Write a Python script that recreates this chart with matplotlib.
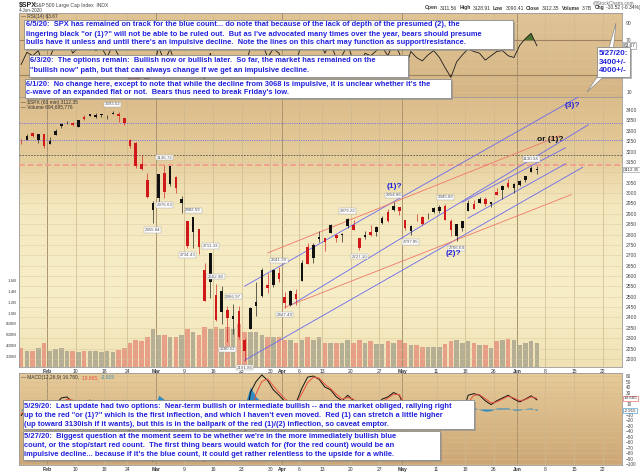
import numpy as np
import pandas as pd
import matplotlib
matplotlib.use("Agg")
import matplotlib.pyplot as plt
from matplotlib.patches import Rectangle, Polygon

plt.rcParams['font.family'] = ['Liberation Sans', 'DejaVu Sans']

# ---------------- data ----------------
holidays = ['2020-02-17', '2020-04-10', '2020-05-25']
sessions = [d.strftime('%Y-%m-%d') for d in pd.bdate_range('2020-01-27', '2020-06-26')
            if d.strftime('%Y-%m-%d') not in holidays]

opens = [3247.16, 3255.35, 3289.46, 3256.45, 3282.33,
         3235.66, 3280.61, 3324.91, 3344.92, 3335.54,
         3318.28, 3365.87, 3370.50, 3365.90, 3378.08,
         3369.04, 3380.39, 3380.45, 3360.50,
         3257.61, 3238.94, 3139.90, 3062.54, 2916.90,
         2974.28, 3096.46, 3045.75, 3075.70, 2954.20,
         2863.89, 2813.48, 2825.60, 2630.86, 2569.99,
         2508.59, 2425.66, 2436.50, 2393.48, 2431.94,
         2290.71, 2344.44, 2457.77, 2501.29, 2555.87,
         2558.98, 2614.69, 2498.08, 2458.54, 2514.92,
         2578.28, 2738.65, 2685.00, 2776.99,
         2782.46, 2805.10, 2795.64, 2799.34, 2842.43,
         2845.62, 2784.81, 2787.89, 2810.42, 2812.64,
         2854.65, 2909.96, 2918.46, 2930.91, 2869.09,
         2815.01, 2868.88, 2883.14, 2878.26, 2908.83,
         2915.46, 2939.50, 2865.86, 2794.54, 2829.95,
         2913.86, 2948.59, 2953.63, 2969.95, 2948.05,
         3004.08, 3015.65, 3046.61, 3025.17,
         3038.78, 3064.78, 3098.90, 3111.56]
highs = [3258.85, 3285.78, 3293.47, 3285.91, 3282.33,
         3268.44, 3306.92, 3337.58, 3347.96, 3341.42,
         3352.26, 3375.63, 3381.47, 3385.09, 3380.69,
         3375.01, 3393.52, 3389.15, 3360.76,
         3259.81, 3246.99, 3182.51, 3097.07, 2959.72,
         3090.96, 3136.72, 3130.97, 3083.04, 2985.93,
         2863.89, 2882.59, 2825.60, 2660.95, 2711.33,
         2562.98, 2553.93, 2453.57, 2466.97, 2453.01,
         2300.73, 2449.71, 2571.42, 2637.01, 2615.91,
         2631.80, 2641.39, 2522.75, 2533.22, 2538.18,
         2676.85, 2756.89, 2760.75, 2818.57,
         2782.46, 2851.85, 2801.88, 2806.51, 2879.22,
         2868.98, 2785.54, 2815.10, 2844.90, 2842.71,
         2887.72, 2921.15, 2954.86, 2930.91, 2869.09,
         2844.24, 2898.23, 2891.11, 2901.92, 2932.16,
         2944.25, 2945.82, 2874.14, 2852.80, 2865.01,
         2968.09, 2964.21, 2980.29, 2978.50, 2956.76,
         3021.72, 3036.25, 3068.67, 3049.17,
         3062.18, 3081.07, 3130.94, 3128.91]
lows = [3234.50, 3253.22, 3271.89, 3242.80, 3214.68,
        3235.66, 3280.61, 3313.75, 3334.39, 3322.12,
        3317.77, 3352.72, 3369.72, 3360.52, 3366.15,
        3355.61, 3378.83, 3341.02, 3328.45,
        3214.65, 3118.77, 3108.99, 2977.39, 2855.84,
        2945.19, 2976.63, 3034.38, 2999.83, 2901.54,
        2734.43, 2734.00, 2707.22, 2478.86, 2492.37,
        2380.94, 2367.04, 2280.52, 2319.78, 2295.56,
        2191.86, 2344.44, 2407.53, 2500.72, 2520.02,
        2545.28, 2571.15, 2447.49, 2455.79, 2459.96,
        2574.57, 2657.67, 2663.30, 2762.36,
        2721.17, 2805.10, 2761.54, 2764.32, 2830.88,
        2820.43, 2727.10, 2775.95, 2794.26, 2791.76,
        2852.89, 2860.71, 2912.16, 2892.47, 2821.61,
        2797.85, 2863.55, 2847.65, 2876.48, 2902.88,
        2903.44, 2869.59, 2793.15, 2766.64, 2816.78,
        2913.86, 2922.35, 2953.63, 2938.57, 2933.59,
        2988.17, 2969.75, 3023.40, 2998.61,
        3031.54, 3051.64, 3098.90, 3090.41]
closes = [3243.63, 3276.24, 3273.40, 3283.66, 3225.52,
          3248.92, 3297.59, 3334.69, 3345.78, 3327.71,
          3352.09, 3357.75, 3379.45, 3373.94, 3380.16,
          3370.29, 3386.15, 3373.23, 3337.75,
          3225.89, 3128.21, 3116.39, 2978.76, 2954.22,
          3090.23, 3003.37, 3130.12, 3023.94, 2972.37,
          2746.56, 2882.23, 2741.38, 2480.64, 2711.02,
          2386.13, 2529.19, 2398.10, 2409.39, 2304.92,
          2237.40, 2447.33, 2475.56, 2630.07, 2541.47,
          2626.65, 2584.59, 2470.50, 2526.90, 2488.65,
          2663.68, 2659.41, 2749.98, 2789.82,
          2761.63, 2846.06, 2783.36, 2799.55, 2874.56,
          2823.16, 2736.56, 2799.31, 2797.80, 2836.74,
          2878.48, 2863.39, 2939.51, 2912.43, 2830.71,
          2842.74, 2868.44, 2848.42, 2881.19, 2929.80,
          2930.32, 2870.12, 2820.00, 2852.50, 2863.70,
          2953.91, 2922.94, 2971.61, 2948.51, 2955.45,
          2991.77, 3036.13, 3029.73, 3044.31,
          3055.73, 3080.82, 3122.87, 3112.35]
volume_m = [350, 300, 300, 350, 450,
            300, 330, 350, 300, 300,
            280, 300, 300, 300, 280,
            300, 280, 320, 350,
            450, 500, 480, 550, 700,
            600, 600, 550, 550, 600,
            700, 650, 600, 750, 700,
            750, 700, 750, 700, 800,
            650, 650, 650, 600, 550,
            550, 550, 500, 500, 450,
            500, 550, 500, 550,
            450, 450, 450, 450, 500,
            450, 500, 450, 480, 420,
            430, 480, 450, 500, 450,
            400, 400, 380, 380, 380,
            380, 420, 480, 500, 450,
            480, 450, 400, 400, 350,
            480, 500, 520, 500,
            400, 450, 480, 450]
rsi = [42, 56, 52, 58, 36,
       50, 66, 72, 70, 55,
       62, 60, 68, 58, 62,
       50, 65, 52, 38,
       20, 18, 30, 22, 35,
       62, 45, 60, 40, 38,
       28, 52, 35, 25, 55,
       30, 50, 35, 45, 35,
       35, 62, 60, 68, 50,
       60, 55, 38, 52, 45,
       68, 60, 66, 70,
       55, 68, 48, 52, 65,
       45, 35, 55, 52, 58,
       62, 52, 68, 55, 35,
       57, 50, 46, 53, 58,
       50, 38, 27, 45, 53,
       60, 57, 55, 47, 52,
       57, 58, 52, 50,
       64, 72, 78, 63.67]
macd = [-12, 2, 4, 2, -12,
        -10, 8, 20, 22, 12,
        10, 14, 16, 10, 9,
        4, 9, 2, -8,
        -45, -65, -70, -88, -95,
        -45, -25, -5, -15, -35,
        -75, -55, -60, -95, -60,
        -85, -60, -70, -55, -60,
        -45, 30, 50, 62, 52,
        35, 25, 14, 8, 12,
        38, 58, 60, 54,
        40, 35, 22, 15, 25,
        15, -10, -5, 2, 5,
        18, 22, 30, 25, 0,
        -12, -2, -3, 2, 12,
        15, 5, -20, -25, -10,
        25, 28, 25, 15, 8,
        15, 20, 25, 18,
        13, 18, 24, 16.78]
signal = [-8, -5, 0, 2, -4,
          -9, -2, 10, 18, 16,
          12, 12, 14, 13, 10,
          7, 7, 5, -2,
          -25, -50, -63, -78, -88,
          -70, -42, -20, -13, -25,
          -55, -60, -58, -78, -72,
          -75, -70, -66, -62, -59,
          -52, -10, 28, 50, 55,
          42, 30, 19, 11, 10,
          28, 48, 58, 56,
          45, 37, 27, 18, 21,
          18, 0, -6, 0, 4,
          13, 20, 27, 26, 8,
          -6, -5, -3, 0, 8,
          13, 9, -10, -22, -15,
          12, 25, 26, 19, 11,
          13, 18, 23, 20,
          15, 17, 22, 19.665]

tick_dates = ['2020-02-03', '2020-02-10', '2020-02-18', '2020-02-24', '2020-03-02',
              '2020-03-09', '2020-03-16', '2020-03-23', '2020-03-30', '2020-04-01',
              '2020-04-06', '2020-04-13', '2020-04-20', '2020-04-27', '2020-05-01',
              '2020-05-11', '2020-05-18', '2020-05-26', '2020-06-01', '2020-06-08',
              '2020-06-15', '2020-06-22']
tick_text = ['Feb', '10', '18', '24', 'Mar', '9', '16', '23', '30', 'Apr', '6', '13',
             '20', '27', 'May', '11', '18', '26', 'Jun', '8', '15', '22']
month_ticks = ['Feb', 'Mar', 'Apr', 'May', 'Jun']

# annotated highs / lows (date, value, +1 above / -1 below)
price_labels = [('2020-02-19', 3393.52, 1), ('2020-03-03', 3136.72, 1), ('2020-03-03', 2976.63, -1),
                ('2020-02-28', 2855.84, -1), ('2020-03-10', 2882.59, 1), ('2020-03-09', 2734.43, -1),
                ('2020-03-13', 2711.33, 1), ('2020-03-16', 2562.98, 1), ('2020-03-19', 2466.97, 1),
                ('2020-03-18', 2280.52, -1), ('2020-03-23', 2191.86, -1), ('2020-03-31', 2641.39, 1),
                ('2020-04-01', 2447.49, -1), ('2020-04-17', 2879.22, 1), ('2020-04-21', 2727.10, -1),
                ('2020-04-29', 2954.86, 1), ('2020-05-04', 2797.85, -1), ('2020-05-12', 2945.82, 1),
                ('2020-05-14', 2766.64, -1), ('2020-06-03', 3130.94, 1)]

# hand-drawn trend lines: (start date, start price, end date, end price, colour)
trend_lines = [('2020-03-23', 2551, '2020-06-18', 3506, 'blue'),
               ('2020-04-02', 2458, '2020-06-17', 3329, 'blue'),
               ('2020-05-15', 2956, '2020-06-11', 3218, 'blue'),
               ('2020-05-18', 2879, '2020-06-11', 3141, 'blue'),
               ('2020-03-23', 2194, '2020-06-16', 3124, 'blue'),
               ('2020-03-27', 2711, '2020-06-10', 3276, 'red'),
               ('2020-04-01', 2449, '2020-06-12', 2992, 'red')]
# horizontal levels: (price, style)
h_levels = [(3337, 'blue'), (3255, 'blue'), (3183, 'black'), (3137, 'red')]

# ---------------- figure ----------------
W, H = 640, 473
fig = plt.figure(figsize=(6.4, 4.73), dpi=100)
fig.patch.set_facecolor('white')

def fax(x0, y0, x1, y1, z):
    a = fig.add_axes([x0 / W, 1 - y1 / H, (x1 - x0) / W, (y1 - y0) / H])
    a.set_zorder(z)
    return a

def P(x, y):
    return (x / W, 1 - y / H)

n = len(closes)
pos = {d: i for i, d in enumerate(sessions)}
xc = np.array([pos[d] for d in sessions[:n]]) + 0.5
XL = (0.12, 105.36)
tick_pos = [pos[d] for d in tick_dates]

def gradient(ax, stops, xl, yl):
    p = [s[0] for s in stops]
    c = np.array([s[1] for s in stops]) / 255.0
    t = np.linspace(0, 1, 256)
    img = np.stack([np.interp(t, p, c[:, k]) for k in range(3)], axis=1)[:, None, :]
    ax.imshow(img, extent=[xl[0], xl[1], yl[0], yl[1]], aspect='auto', origin='upper',
              zorder=0, interpolation='bilinear')
    ax.set_xlim(*xl); ax.set_ylim(*yl)

def vgrid(ax):
    for tp, tt in zip(tick_pos, tick_text):
        if tt in month_ticks:
            ax.axvline(tp, color='#a9936f', lw=0.7, zorder=1)
        else:
            ax.axvline(tp, color='#cdb98f', lw=0.5, zorder=1)

def frame(ax):
    for s in ax.spines.values():
        s.set_color('#9a9a9a'); s.set_linewidth(0.6)

blue_c = '#6868f0'
red_c = '#f07868'
txt_blue = '#2222dd'

# ---- RSI panel ----
ax_r = fax(19, 13, 622, 97, 1)
RL = (4.2, 101.6)
gradient(ax_r, [(0, (224, 196, 150)), (1, (213, 181, 132))], XL, RL)
vgrid(ax_r)
for v in range(10, 100, 10):
    ax_r.axhline(v, color='#d9c39a', lw=0.4, zorder=1)
ax_r.axhline(70, color='#9c8462', lw=0.8, zorder=2)
ax_r.axhline(30, color='#9c8462', lw=0.8, zorder=2)
r = np.array(rsi, float)
ax_r.fill_between(xc, r, 70, where=r >= 70, interpolate=True, color='#4d7330', zorder=3, lw=0)
ax_r.fill_between(xc, r, 30, where=r <= 30, interpolate=True, color='#a8412f', zorder=3, lw=0)
ax_r.plot(xc, r, color='#1a1a1a', lw=0.6, zorder=4)
ax_r.set_yticks([10, 70, 90])
ax_r.yaxis.tick_right()
ax_r.tick_params(axis='y', labelsize=3.6, length=0, pad=3, labelcolor='#444')
ax_r.set_xticks([])
ax_r.text(1.003, (63.67 - RL[0]) / (RL[1] - RL[0]), '63.67', transform=ax_r.transAxes,
          fontsize=3.3, va='center', ha='left', color='#333',
          bbox=dict(boxstyle='square,pad=0.2', fc='white', ec='#888', lw=0.4))
ax_r.text(0.004, 0.985, '\u2014 RSI(14) 63.67', transform=ax_r.transAxes, fontsize=3.5,
          va='top', ha='left', color='#333')
frame(ax_r)

# ---- Price panel (volume behind) ----
PL = (2161.4, 3462.7)
VL = (0, 5.023e9)
ax_v = fax(19, 97, 622, 367, 1)
gradient(ax_v, [(0, (219, 188, 138)), (0.22, (229, 204, 154)), (0.4, (244, 232, 190)),
                (0.75, (247, 238, 200)), (1, (240, 226, 180))], XL, VL)
vgrid(ax_v)
vol = np.array(volume_m) * 1e6
cl = np.array(closes); op = np.array(opens)
vcol = np.where(cl >= op, '#aaa58f', '#e6937f')
ax_v.bar(xc, vol, width=0.8, color=vcol, alpha=0.85, zorder=2, lw=0)
ax_v.set_yticks([2e8, 4e8, 6e8, 8e8, 1.0e9, 1.2e9, 1.4e9, 1.6e9])
ax_v.set_yticklabels(['200M', '400M', '600M', '800M', '1.0B', '1.2B', '1.4B', '1.6B'])
ax_v.tick_params(axis='y', labelsize=3.2, length=0, pad=1.5, labelcolor='#444')
ax_v.set_xticks([])
frame(ax_v)

ax_p = fax(19, 97, 622, 367, 2)
ax_p.patch.set_alpha(0)
ax_p.set_xlim(*XL); ax_p.set_ylim(*PL)
for v in range(2200, 3451, 50):
    ax_p.axhline(v, color='#d7c49c', lw=0.4, alpha=0.7, zorder=1)
for lv, st in h_levels:
    if st == 'blue':
        ax_p.axhline(lv, color='#6f6fe8', lw=0.7, ls=(0, (1, 1.3)), zorder=2)
    elif st == 'black':
        ax_p.axhline(lv, color='#555555', lw=0.6, ls=(0, (2, 1.5)), zorder=2)
    else:
        ax_p.axhline(lv, color='#f2a090', lw=1.4, ls=(0, (3, 1.5)), zorder=2)
for d0, p0, d1, p1, c in trend_lines:
    ax_p.plot([pos[d0] + 0.5, pos[d1] + 0.5], [p0, p1], color=blue_c if c == 'blue' else red_c,
              lw=0.6, zorder=3)
hi = np.array(highs); lo = np.array(lows)
ccol = np.where(cl >= op, '#111111', '#d01818')
ax_p.vlines(xc, lo, hi, colors=ccol, lw=0.45, zorder=4)
body_lo = np.minimum(op, cl)
body_h = np.maximum(np.abs(cl - op), 2.0)
ax_p.bar(xc, body_h, bottom=body_lo, width=0.45, color=ccol, lw=0, zorder=5)
for d, v, s in price_labels:
    ax_p.annotate(f'{v:.2f}', (pos[d] + 0.5, v), xytext=(0, 3.6 * s), textcoords='offset points',
                  ha='center', va='bottom' if s > 0 else 'top', fontsize=3.2, color='#555',
                  bbox=dict(boxstyle='square,pad=0.15', fc='white', ec='#aaa', lw=0.35), zorder=6)
pticks = [v for v in range(2200, 3401, 50) if v != 3100]
ax_p.set_yticks(pticks)
ax_p.yaxis.tick_right()
ax_p.tick_params(axis='y', labelsize=3.6, length=0, pad=3, labelcolor='#444')
ax_p.set_xticks(tick_pos)
ax_p.set_xticklabels(tick_text)
ax_p.tick_params(axis='x', labelsize=3.6, length=0, pad=1.2, labelcolor='#333')
for lab in ax_p.get_xticklabels():
    if lab.get_text() in month_ticks:
        lab.set_fontweight('bold')
ax_p.text(1.003, (3112.35 - PL[0]) / (PL[1] - PL[0]), '3112.35', transform=ax_p.transAxes,
          fontsize=3.2, va='center', ha='left', color='#333',
          bbox=dict(boxstyle='square,pad=0.15', fc='white', ec='#888', lw=0.4))
ax_p.text(0.004, 0.99, '\u2014 $SPX (60 min) 3112.35', transform=ax_p.transAxes, fontsize=3.5,
          va='top', ha='left', color='#333')
ax_p.text(0.004, 0.972, '\u2014 Volume 694,695,776', transform=ax_p.transAxes, fontsize=3.5,
          va='top', ha='left', color='#333')
# wave labels
ax_p.text(pos['2020-04-29'] + 0.7, 3030, '(1)?', fontsize=6, fontweight='bold', color=txt_blue,
          ha='center', va='center', zorder=7)
ax_p.text(pos['2020-05-14'] - 0.1, 2709, '(2)?', fontsize=6, fontweight='bold', color=txt_blue,
          ha='center', va='center', zorder=7)
ax_p.text(pos['2020-06-08'] + 0.8, 3260, 'or (1)?', fontsize=6, fontweight='bold', color='#111',
          ha='center', va='center', zorder=7)
ax_p.text(pos['2020-06-12'] + 0.7, 3424, '(3)?', fontsize=6, fontweight='bold', color=txt_blue,
          ha='center', va='center', zorder=7)
for s in ax_p.spines.values():
    s.set_visible(False)

# ---- MACD panel ----
ML = (-101.8, 65.5)
ax_m = fax(19, 373, 622, 465, 1)
gradient(ax_m, [(0, (230, 203, 153)), (1, (205, 167, 117))], XL, ML)
vgrid(ax_m)
for v in range(-100, 61, 10):
    ax_m.axhline(v, color='#d4bc90', lw=0.4, alpha=0.8, zorder=1)
m = np.array(macd, float); sg = np.array(signal, float)
ax_m.fill_between(xc, m - sg, 0, color='#2f8cc2', lw=0, zorder=2)
ax_m.plot(xc, m, color='#111', lw=0.7, zorder=3)
ax_m.plot(xc, sg, color='#e8503c', lw=0.7, zorder=3)
ax_m.set_yticks([v for v in range(-100, 61, 10) if v not in (20, 0)])
ax_m.yaxis.tick_right()
ax_m.tick_params(axis='y', labelsize=3.4, length=0, pad=3, labelcolor='#444')
ax_m.set_xticks(tick_pos)
ax_m.set_xticklabels(tick_text)
ax_m.tick_params(axis='x', labelsize=3.6, length=0, pad=1.2, labelcolor='#333')
for lab in ax_m.get_xticklabels():
    if lab.get_text() in month_ticks:
        lab.set_fontweight('bold')
ax_m.text(1.003, (19.665 - ML[0]) / (ML[1] - ML[0]), '19.665', transform=ax_m.transAxes,
          fontsize=3.2, va='center', ha='left', color='#333',
          bbox=dict(boxstyle='square,pad=0.15', fc='white', ec='#e8503c', lw=0.4))
ax_m.text(1.003, (-2.915 - ML[0]) / (ML[1] - ML[0]), '-2.915', transform=ax_m.transAxes,
          fontsize=3.2, va='center', ha='left', color='#333',
          bbox=dict(boxstyle='square,pad=0.15', fc='white', ec='#2f8cc2', lw=0.4))
rend = fig.canvas.get_renderer()
xx = 0.004
for s_, c_ in [('\u2014 MACD(12,26,9) 16.780, ', '#333'), ('19.665, ', '#e8503c'), ('-2.915', '#2f8cc2')]:
    t = ax_m.text(xx, 0.975, s_, transform=ax_m.transAxes, fontsize=3.5, va='top', ha='left', color=c_)
    bb = t.get_window_extent(renderer=rend)
    xx += bb.width / (603.0) + 0.002
frame(ax_m)

# ---- header ----
fig.text(*P(19, 5), '$SPX', fontsize=5, fontweight='bold', color='#222', va='center', ha='left')
fig.text(*P(35, 5), 'S&P 500 Large Cap Index  INDX', fontsize=3.6, color='#444', va='center', ha='left')
fig.text(*P(19, 10.5), '4-Jun-2020', fontsize=3.4, color='#444', va='center', ha='left')
fig.text(*P(634, 3), '@StockCharts.com', fontsize=3.4, color='#666', va='center', ha='right')
xh = 425
for s_, w_ in [('Open', 'bold'), ('3111.56', 'normal'), ('High', 'bold'), ('3128.91', 'normal'),
               ('Low', 'bold'), ('3090.41', 'normal'), ('Close', 'bold'), ('3112.35', 'normal'),
               ('Volume', 'bold'), ('3.7B', 'normal'), ('Chg', 'bold'), ('-10.52 (-0.34%)', 'normal')]:
    t = fig.text(*P(xh, 8), s_, fontsize=3.6, fontweight=w_, color='#333', va='center', ha='left')
    xh += t.get_window_extent(renderer=rend).width + 2.2
fig.patches.append(Rectangle(P(xh + 1, 9.5), 2.5 / W, 3 / H, transform=fig.transFigure,
                             fc='#c0392b', ec='none', zorder=5))

# ---- annotation boxes ----
def textbox(x0, y0, x1, y1, lines, tx, ty0, step=9.0, size=5.45):
    fig.patches.append(Rectangle(P(x0 + 2, y1 + 2), (x1 - x0) / W, (y1 - y0) / H,
                                 transform=fig.transFigure, fc='#8c8c8c', ec='none', alpha=0.6, zorder=8))
    fig.patches.append(Rectangle(P(x0, y1), (x1 - x0) / W, (y1 - y0) / H,
                                 transform=fig.transFigure, fc='white', ec='#8a8a8a', lw=0.6, zorder=9))
    for i, ln in enumerate(lines):
        fig.text(*P(tx, ty0 + i * step), ln, fontsize=size, fontweight='bold', color=txt_blue,
                 va='center', ha='left', zorder=10)

textbox(24, 20, 513, 49,
        ['6/5/20:  SPX has remained on track for the blue count... do note that because of the lack of depth of the presumed (2), the',
         'lingering black "or (1)?" will not be able to be ruled out.  But as I\'ve advocated many times over the year, bears should presume',
         'bulls have it unless and until there\'s an impulsive decline.  Note the lines on this chart may function as support/resistance.'],
        25.5, 25)
textbox(29, 55, 408, 77,
        ['6/3/20:  The options remain:  Bullish now or bullish later.  So far, the market has remained on the',
         '"bullish now" path, but that can always change if we get an impulsive decline.'],
        30.5, 61)
textbox(25, 79, 451, 98,
        ['6/1/20:  No change here, except to note that while the decline from 3068 is impulsive, it is unclear whether it\'s the',
         'c-wave of an expanded flat or not.  Bears thus need to break Friday\'s low.'],
        26.5, 84)
textbox(23, 400, 474, 429,
        ['5/29/20:  Last update had two options:  Near-term bullish or intermediate bullish -- and the market obliged, rallying right',
         'up to the red "or (1)?" which is the first inflection, and which I haven\'t even moved.  Red (1) can stretch a little higher',
         '(up toward 3130ish if it wants), but this is in the ballpark of the red (1)/(2) inflection, so caveat emptor.'],
        24.5, 406)
textbox(23, 431, 440, 460,
        ['5/27/20:  Biggest question at the moment seem to be whether we\'re in the more immediately bullish blue',
         'count, or the stop/start red count.  The first thing bears would watch for (for the red count) would be an',
         'impulsive decline... because if it\'s the blue count, it could get rather relentless to the upside for a while.'],
        24.5, 436)

# right callout box with pointers
fig.patches.append(Polygon([P(609, 47.5), P(613.5, 47.5), P(616, 23)], closed=True,
                           transform=fig.transFigure, fc='white', ec='#8a8a8a', lw=0.5, zorder=9))
fig.patches.append(Polygon([P(597.5, 76.5), P(604, 76.5), P(587, 92)], closed=True,
                           transform=fig.transFigure, fc='white', ec='#8a8a8a', lw=0.5, zorder=9))
textbox(597, 47, 630, 77, ['5/27/20:', '3400+/-', '4000+/-'], 598.5, 53, size=5.8)

fig.savefig('out.png', dpi=100, facecolor='white')
